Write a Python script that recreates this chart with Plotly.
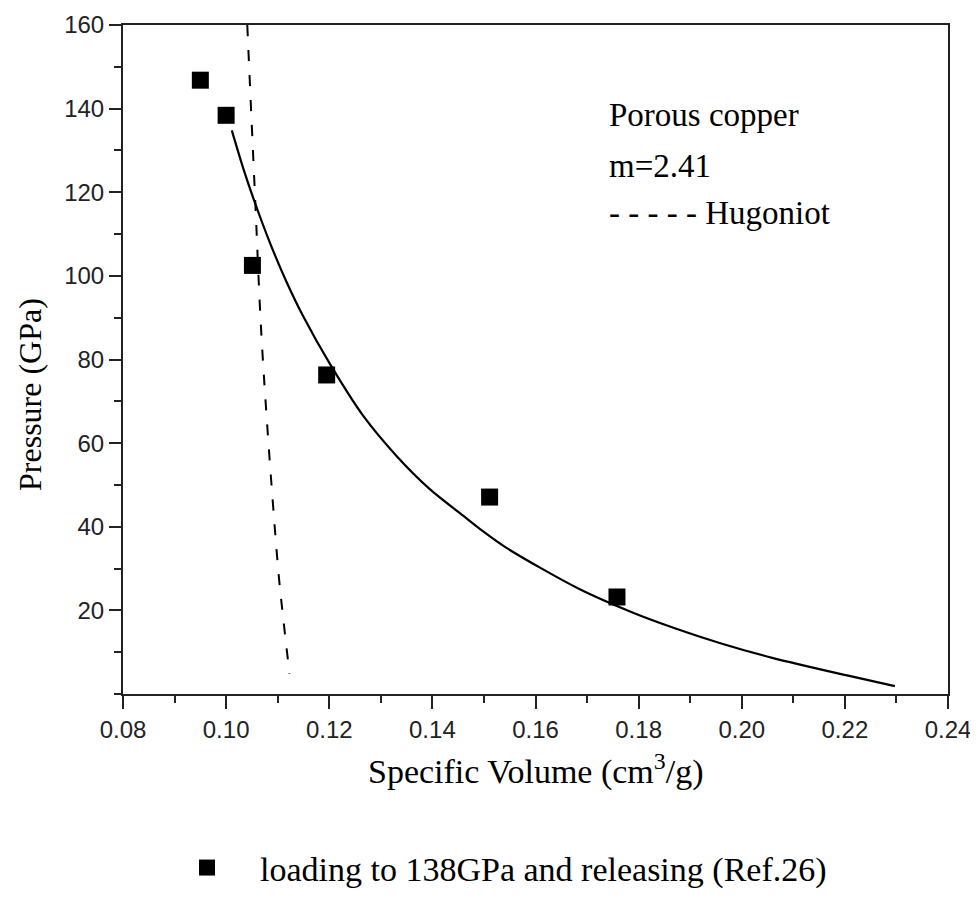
import plotly.graph_objects as go

# Experimental points (loading to 138GPa and releasing, Ref.26)
exp_v = [0.0950, 0.1000, 0.1051, 0.1195, 0.1511, 0.1758]
exp_p = [146.8, 138.4, 102.5, 76.3, 47.1, 23.2]

# Calculated release curve (solid)
curve_v = [0.1011, 0.1034, 0.1053, 0.1085, 0.1117, 0.1150, 0.1201, 0.1266, 0.1330, 0.1395,
           0.1459, 0.1492, 0.1543, 0.1685, 0.1788, 0.1873, 0.1957, 0.2059, 0.2202, 0.2297]
curve_p = [134.8, 125.4, 118.5, 107.9, 98.6, 90.2, 79.0, 66.5, 57.0, 49.0,
           42.7, 39.5, 35.0, 25.1, 19.5, 15.6, 12.2, 8.65, 4.5, 1.9]

# Hugoniot (dashed)
hug_v = [0.1041, 0.1056, 0.1070, 0.1101, 0.1111, 0.1123]
hug_p = [160.0, 119.2, 82.5, 29.8, 17.8, 4.8]

x_ticks = [0.08, 0.10, 0.12, 0.14, 0.16, 0.18, 0.20, 0.22, 0.24]
y_ticks = [20, 40, 60, 80, 100, 120, 140, 160]

SERIF = "Liberation Serif"
SANS = "Liberation Sans"

fig = go.Figure()
fig.add_trace(go.Scatter(x=hug_v, y=hug_p, mode="lines",
                         line=dict(color="black", width=2, dash="11px,14px", shape="spline"),
                         showlegend=False, hoverinfo="skip"))
fig.add_trace(go.Scatter(x=curve_v, y=curve_p, mode="lines",
                         line=dict(color="black", width=2.2, shape="spline", smoothing=0.8),
                         showlegend=False, hoverinfo="skip"))
fig.add_trace(go.Scatter(x=exp_v, y=exp_p, mode="markers",
                         marker=dict(symbol="square", size=17, color="black"),
                         name="loading to 138GPa and releasing (Ref.26)", showlegend=True))

fig.update_layout(
    width=970, height=915,
    margin=dict(l=115, r=30, t=17, b=229),
    paper_bgcolor="white", plot_bgcolor="white",
    showlegend=True,
    legend=dict(x=0.0376, y=-0.26, xanchor="left", yanchor="middle",
                font=dict(family=SERIF, size=34, color="black"),
                itemwidth=96, bgcolor="rgba(0,0,0,0)"),
    xaxis=dict(range=[0.08, 0.24], tickmode="array", tickvals=x_ticks,
               ticktext=[f"{v:.2f}" for v in x_ticks], automargin=False,
               ticks="outside", ticklen=13, tickwidth=2, tickcolor="#222",
               showline=True, linecolor="#222", linewidth=2, mirror=True,
               showgrid=False, zeroline=False,
               tickfont=dict(family=SANS, size=24, color="#222"),
               minor=dict(ticks="outside", ticklen=7, tickwidth=2, tickcolor="#222", dtick=0.01, tick0=0.08)),
    yaxis=dict(range=[0, 160], tickmode="array", tickvals=y_ticks, automargin=False,
               ticks="outside", ticklen=12, tickwidth=2, tickcolor="#222",
               showline=True, linecolor="#222", linewidth=2, mirror=True,
               showgrid=False, zeroline=False,
               tickfont=dict(family=SANS, size=24, color="#222"),
               minor=dict(ticks="outside", ticklen=7, tickwidth=2, tickcolor="#222", dtick=10, tick0=0)),
    annotations=[
        dict(text="Pressure (GPa)", xref="paper", yref="paper", x=-0.1127, y=0.447,
             textangle=-90, showarrow=False, xanchor="center", yanchor="middle",
             font=dict(family=SERIF, size=32, color="black")),
        dict(text="Specific Volume (cm<sup>3</sup>/g)", xref="paper", yref="paper", x=0.5006, y=-0.113,
             showarrow=False, xanchor="center", yanchor="middle",
             font=dict(family=SERIF, size=34, color="black")),
        dict(text="Porous copper", xref="paper", yref="paper", x=0.5867, y=0.866,
             showarrow=False, xanchor="left", yanchor="middle",
             font=dict(family=SERIF, size=33, color="black")),
        dict(text="m=2.41", xref="paper", yref="paper", x=0.5867, y=0.789,
             showarrow=False, xanchor="left", yanchor="middle",
             font=dict(family=SERIF, size=33, color="black")),
        dict(text="- - - - - Hugoniot", xref="paper", yref="paper", x=0.5867, y=0.719,
             showarrow=False, xanchor="left", yanchor="middle",
             font=dict(family=SERIF, size=33, color="black")),
    ],
)

fig.write_html("out.html")
